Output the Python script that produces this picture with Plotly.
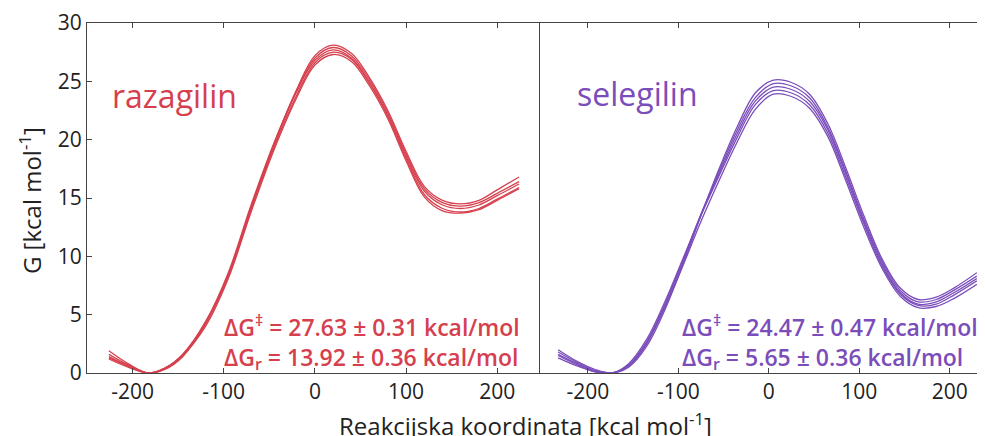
import plotly.graph_objects as go

RED = "#D6404E"
PURPLE = "#7A4DBA"
AXIS = "#444444"
INK = "#222222"
FONT = "Open Sans, sans-serif"

# razagilin: shared reaction-coordinate grid, five free-energy profiles
raz_x = [-226, -205, -183, -165, -145, -120, -95, -70, -45, -20, 0, 20, 40, 60,
         80, 100, 120, 140, 160, 180, 200, 224]
raz_curves = [
    [1.9, 0.8, 0.0, 0.4, 1.5, 4.2, 8.4, 14.2, 19.6, 24.3, 27.2, 28.1, 27.4, 25.3,
     22.5, 19.0, 16.0, 14.8, 14.5, 14.8, 15.7, 16.8],
    [1.6, 0.7, 0.0, 0.4, 1.6, 4.4, 8.6, 14.4, 19.7, 24.2, 27.0, 27.9, 27.2, 25.1,
     22.3, 18.8, 15.8, 14.6, 14.3, 14.6, 15.4, 16.4],
    [1.4, 0.6, 0.0, 0.3, 1.4, 4.2, 8.4, 14.2, 19.5, 24.1, 26.8, 27.7, 27.0, 24.9,
     22.1, 18.6, 15.6, 14.4, 14.1, 14.4, 15.2, 16.2],
    [1.2, 0.5, 0.0, 0.4, 1.6, 4.3, 8.3, 14.0, 19.3, 23.8, 26.6, 27.5, 26.9, 24.8,
     22.0, 18.4, 15.3, 14.1, 13.8, 14.1, 14.9, 15.9],
    [1.3, 0.6, 0.0, 0.3, 1.5, 4.0, 8.1, 13.8, 19.1, 23.6, 26.4, 27.3, 26.7, 24.6,
     21.8, 18.2, 15.1, 13.9, 13.7, 14.0, 14.8, 15.8],
]

# selegilin
sel_x = [-233, -212, -192, -173, -155, -135, -115, -95, -75, -55, -35, -15, 5, 25,
         45, 65, 85, 105, 125, 145, 165, 185, 205, 230]
sel_curves = [
    [2.0, 1.0, 0.3, 0.0, 0.5, 2.3, 5.4, 9.3, 13.5, 17.5, 21.1, 24.0, 25.1, 24.9,
     23.9, 21.4, 17.6, 13.5, 9.8, 7.3, 6.3, 6.5, 7.3, 8.6],
    [1.8, 0.9, 0.2, 0.0, 0.6, 2.5, 5.7, 9.5, 13.6, 17.3, 20.8, 23.6, 24.8, 24.6,
     23.6, 21.1, 17.3, 13.2, 9.6, 7.1, 6.1, 6.3, 7.1, 8.3],
    [1.6, 0.8, 0.2, 0.0, 0.7, 2.7, 5.9, 9.7, 13.6, 17.1, 20.5, 23.3, 24.5, 24.3,
     23.3, 20.9, 17.1, 13.0, 9.4, 6.9, 5.9, 6.1, 6.9, 8.1],
    [1.5, 0.7, 0.1, 0.0, 0.8, 2.9, 6.1, 9.8, 13.5, 16.9, 20.2, 23.0, 24.2, 24.0,
     23.0, 20.6, 16.8, 12.8, 9.2, 6.8, 5.8, 5.9, 6.7, 7.9],
    [1.3, 0.6, 0.1, 0.0, 0.6, 2.6, 5.6, 9.2, 13.0, 16.5, 19.8, 22.6, 23.9, 23.7,
     22.7, 20.3, 16.5, 12.5, 9.0, 6.6, 5.6, 5.7, 6.4, 7.6],
]

raz_stats = ["ΔG<sup>‡</sup> = 27.63 ± 0.31 kcal/mol", "ΔG<sub>r</sub> = 13.92 ± 0.36 kcal/mol"]
sel_stats = ["ΔG<sup>‡</sup> = 24.47 ± 0.47 kcal/mol", "ΔG<sub>r</sub> = 5.65 ± 0.36 kcal/mol"]

x_ticks = [-200, -100, 0, 100, 200]
y_ticks = [0, 5, 10, 15, 20, 25, 30]

fig = go.Figure()
for ys in raz_curves:
    fig.add_trace(go.Scatter(x=raz_x, y=ys, mode="lines", line=dict(color=RED, width=1.3, shape="spline"),
                             xaxis="x", yaxis="y", showlegend=False))
for ys in sel_curves:
    fig.add_trace(go.Scatter(x=sel_x, y=ys, mode="lines", line=dict(color=PURPLE, width=1.3, shape="spline"),
                             xaxis="x2", yaxis="y2", showlegend=False))

xax = dict(tickvals=x_ticks, ticktext=[str(v) for v in x_ticks], ticks="inside", ticklen=5,
           tickcolor=AXIS, showline=True, linecolor=AXIS, linewidth=1, mirror="ticks",
           showgrid=False, zeroline=False, automargin=False,
           tickfont=dict(family=FONT, size=21, color=INK))
# page body has an 8px margin, so the figure is a little smaller than the window
fig.update_layout(
    width=977, height=428,
    paper_bgcolor="white", plot_bgcolor="white",
    margin=dict(l=79, r=0, t=15, b=63),
    xaxis=dict(domain=[0, 0.5045], range=[-250, 247], **xax),
    xaxis2=dict(domain=[0.5045, 1], range=[-253, 239], anchor="y2", **xax),
    yaxis=dict(range=[0, 30], tickvals=y_ticks, ticks="inside", ticklen=5, tickcolor=AXIS,
               showline=True, linecolor=AXIS, linewidth=1, showgrid=False, zeroline=False,
               automargin=False, tickfont=dict(family=FONT, size=21, color=INK)),
    yaxis2=dict(range=[0, 30], anchor="x2", showticklabels=False, ticks="", showline=True,
                linecolor=AXIS, linewidth=1.2, showgrid=False, zeroline=False, automargin=False),
)

ann = []
ann.append(dict(text="razagilin", x=-225, y=23.8, xref="x", yref="y", xanchor="left", yanchor="middle",
                showarrow=False, font=dict(family=FONT, size=32, color=RED)))
ann.append(dict(text="selegilin", x=-214, y=24.0, xref="x2", yref="y2", xanchor="left", yanchor="middle",
                showarrow=False, font=dict(family=FONT, size=32, color=PURPLE)))
ann.append(dict(text="<br>".join(raz_stats), x=-102, y=2.65, xref="x", yref="y", xanchor="left",
                yanchor="middle", align="left", showarrow=False,
                font=dict(family=FONT, size=23, color=RED, weight=600)))
ann.append(dict(text="<br>".join(sel_stats), x=-98, y=2.65, xref="x2", yref="y2", xanchor="left",
                yanchor="middle", align="left", showarrow=False,
                font=dict(family=FONT, size=23, color=PURPLE, weight=600)))
ann.append(dict(text="Reakcijska koordinata [kcal mol<sup>-1</sup>]", x=0.488, y=-0.148, xref="paper", yref="paper",
                xanchor="center", yanchor="middle", showarrow=False, font=dict(family=FONT, size=24, color=INK)))
ann.append(dict(text="G [kcal mol<sup>-1</sup>]", x=-0.0635, y=0.494, xref="paper", yref="paper", textangle=-90,
                xanchor="center", yanchor="middle", showarrow=False, font=dict(family=FONT, size=24, color=INK)))
fig.update_layout(annotations=ann)

fig.write_html("out.html")
